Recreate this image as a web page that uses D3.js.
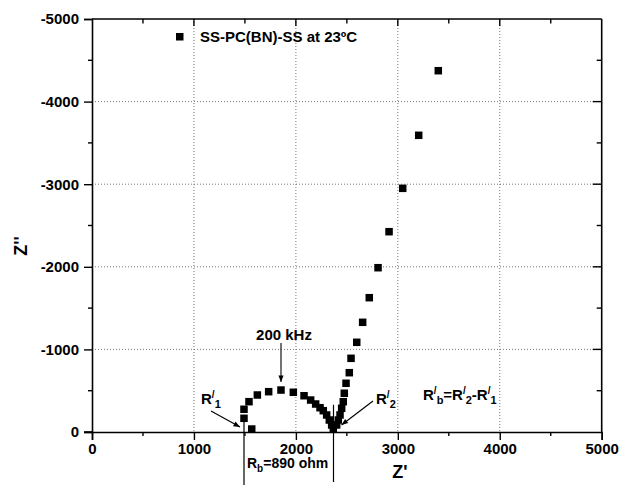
<!DOCTYPE html>
<html><head><meta charset="utf-8">
<script src="https://cdn.jsdelivr.net/npm/d3@7"></script>
<style>body{margin:0;background:#fff}svg{display:block}text{font-family:"Liberation Sans",Arial,sans-serif;font-weight:bold;fill:#000}</style>
</head><body>
<script>
const zReal = [1567,1491,1491,1540,1622,1733,1854,1975,2080,2145,2194,2237,2269,2302,2328,2351,2367,2400,2416,2433,2449,2465,2475,2492,2524,2541,2597,2655,2720,2806,2914,3048,3205,3397];
const zImag = [-36,-166,-275,-367,-448,-488,-508,-481,-439,-387,-339,-294,-258,-206,-145,-85,-33,-85,-145,-206,-287,-367,-469,-590,-718,-892,-1086,-1328,-1626,-1989,-2425,-2950,-3592,-4374];
const xTicks = [0,1000,2000,3000,4000,5000];
const yTicks = [0,-1000,-2000,-3000,-4000,-5000];
const xMinor = [500,1500,2500,3500,4500];
const yMinor = [-500,-1500,-2500,-3500,-4500];
const legendLabel = "SS-PC(BN)-SS at 23ºC";
const peakFreq = {label:"200 kHz", x:1854, y:-508};
const rPrime1 = 1491, rPrime2 = 2369;
const rbLabel = "=890 ohm";

const W=621,H=485, L=92,R=601.7,T=19,B=432;
const svg=d3.select("body").append("svg").attr("width",W).attr("height",H);
const x=d3.scaleLinear().domain([0,5000]).range([L,R]);
const y=d3.scaleLinear().domain([0,-5000]).range([B,T]);

// grid
const g=svg.append("g");
g.selectAll("line.gx").data(xTicks.slice(1,-1)).join("line")
 .attr("x1",d=>x(d)).attr("x2",d=>x(d)).attr("y1",T).attr("y2",B)
 .attr("stroke","#777").attr("stroke-width",1).attr("stroke-dasharray","1,2");
g.selectAll("line.gy").data(yTicks.slice(1,-1)).join("line")
 .attr("y1",d=>y(d)).attr("y2",d=>y(d)).attr("x1",L).attr("x2",R)
 .attr("stroke","#777").attr("stroke-width",1).attr("stroke-dasharray","1,2");

// axes
function ax(axis,tx,ty,maj,showLabels,pad){
  const a=axis.tickValues(maj).tickSize(8).tickFormat(showLabels?(d=>String(d)):"" ).tickPadding(pad);
  const ga=svg.append("g").attr("transform",`translate(${tx},${ty})`).call(a);
  ga.select(".domain").attr("stroke-width",1.6);
  ga.selectAll(".tick line").attr("stroke-width",1.4);
  ga.selectAll("text").style("font-size","15px").style("font-family","Liberation Sans, Arial").style("font-weight","bold");
  return ga;
}
ax(d3.axisBottom(x),0,B,xTicks,true,3);
ax(d3.axisLeft(y),L,0,yTicks,true,5);
// minor ticks
function minor(sel,vals,f){sel.selectAll(null).data(vals).join("line").each(f).attr("stroke","#000").attr("stroke-width",1.4);}
const mg=svg.append("g");
minor(mg,xMinor,function(d){d3.select(this).attr("x1",x(d)).attr("x2",x(d)).attr("y1",B).attr("y2",B+4);});
minor(mg,xMinor,function(d){d3.select(this).attr("x1",x(d)).attr("x2",x(d)).attr("y1",T).attr("y2",T+4.5);});
minor(mg,[1000,2000,3000,4000],function(d){d3.select(this).attr("x1",x(d)).attr("x2",x(d)).attr("y1",T).attr("y2",T+7);});
minor(mg,yMinor,function(d){d3.select(this).attr("y1",y(d)).attr("y2",y(d)).attr("x1",L).attr("x2",L-4);});
minor(mg,yMinor,function(d){d3.select(this).attr("y1",y(d)).attr("y2",y(d)).attr("x1",R).attr("x2",R-5);});
minor(mg,yTicks.slice(1,-1),function(d){d3.select(this).attr("y1",y(d)).attr("y2",y(d)).attr("x1",R).attr("x2",R-9);});
// frame
svg.append("line").attr("x1",R).attr("x2",R).attr("y1",T).attr("y2",B).attr("stroke","#000").attr("stroke-width",1.6);
svg.append("line").attr("x1",L).attr("x2",R).attr("y1",T).attr("y2",T).attr("stroke","#000").attr("stroke-width",1.6);
svg.append("line").attr("x1",L-8).attr("x2",L).attr("y1",B).attr("y2",B).attr("stroke","#000").attr("stroke-width",1.6);

// points
const pts=zReal.map((d,i)=>({x:d,y:zImag[i]}));
const s=7.5;
svg.append("g").selectAll("rect").data(pts).join("rect")
 .attr("x",d=>x(d.x)-s/2).attr("y",d=>y(d.y)-s/2).attr("width",s).attr("height",s).attr("fill","#000");

// legend
svg.append("rect").attr("x",176).attr("y",33).attr("width",7.5).attr("height",7.5).attr("fill","#000");
svg.append("text").attr("x",200).attr("y",42).style("font-size","15px").text(legendLabel);

// axis labels
svg.append("text").attr("x",400).attr("y",478).attr("text-anchor","middle").style("font-size","18px").text("Z'");
svg.append("text").attr("transform","translate(27,246) rotate(-90)").attr("text-anchor","middle").style("font-size","18px").text("Z''");

// arrows
function arrow(x1,y1,x2,y2){
  svg.append("line").attr("x1",x1).attr("y1",y1).attr("x2",x2).attr("y2",y2).attr("stroke","#000").attr("stroke-width",1.1);
  const a=Math.atan2(y2-y1,x2-x1), l=7, w=0.38;
  svg.append("path").attr("d",`M${x2},${y2}L${x2-l*Math.cos(a-w)},${y2-l*Math.sin(a-w)}L${x2-l*Math.cos(a+w)},${y2-l*Math.sin(a+w)}Z`).attr("fill","#000");
}
const px=x(peakFreq.x), py=y(peakFreq.y);
svg.append("text").attr("x",px+3).attr("y",py-50).attr("text-anchor","middle").style("font-size","15px").text(peakFreq.label);
arrow(px,py-47,px,py-8);

// R' labels
function rprime(xp,yb,sub){
  const t=svg.append("text").attr("x",xp).attr("y",yb).style("font-size","15px");
  t.append("tspan").text("R");
  t.append("tspan").attr("dy",-6).style("font-size","10px").text("/");
  t.append("tspan").attr("dy",10).style("font-size","11px").text(sub);
  return t;
}
rprime(201,404,"1");
arrow(211,411,x(rPrime1)-4,y(0)-5);
rprime(376,404,"2");
arrow(373,401,x(rPrime2)+8,y(-85));

// R'b = R'2 - R'1
const tb=svg.append("text").attr("x",423).attr("y",400).style("font-size","15px");
tb.append("tspan").text("R");
tb.append("tspan").attr("dy",-6).style("font-size","10px").text("/");
tb.append("tspan").attr("dy",10).style("font-size","11px").text("b");
tb.append("tspan").attr("dy",-4).text("=R");
tb.append("tspan").attr("dy",-6).style("font-size","10px").text("/");
tb.append("tspan").attr("dy",10).style("font-size","11px").text("2");
tb.append("tspan").attr("dy",-4).text("-R");
tb.append("tspan").attr("dy",-6).style("font-size","10px").text("/");
tb.append("tspan").attr("dy",10).style("font-size","11px").text("1");

// Rb bracket lines
svg.append("line").attr("x1",x(rPrime1)).attr("x2",x(rPrime1)).attr("y1",y(-170)).attr("y2",485).attr("stroke","#000").attr("stroke-width",1.2);
svg.append("line").attr("x1",x(rPrime2)).attr("x2",x(rPrime2)).attr("y1",y(-330)).attr("y2",482).attr("stroke","#000").attr("stroke-width",1.2);
const tr=svg.append("text").attr("x",x(rPrime1)+3).attr("y",468).style("font-size","14px");
tr.append("tspan").text("R");
tr.append("tspan").attr("dy",4).style("font-size","10px").text("b");
tr.append("tspan").attr("dy",-4).text(rbLabel);
</script>
</body></html>
